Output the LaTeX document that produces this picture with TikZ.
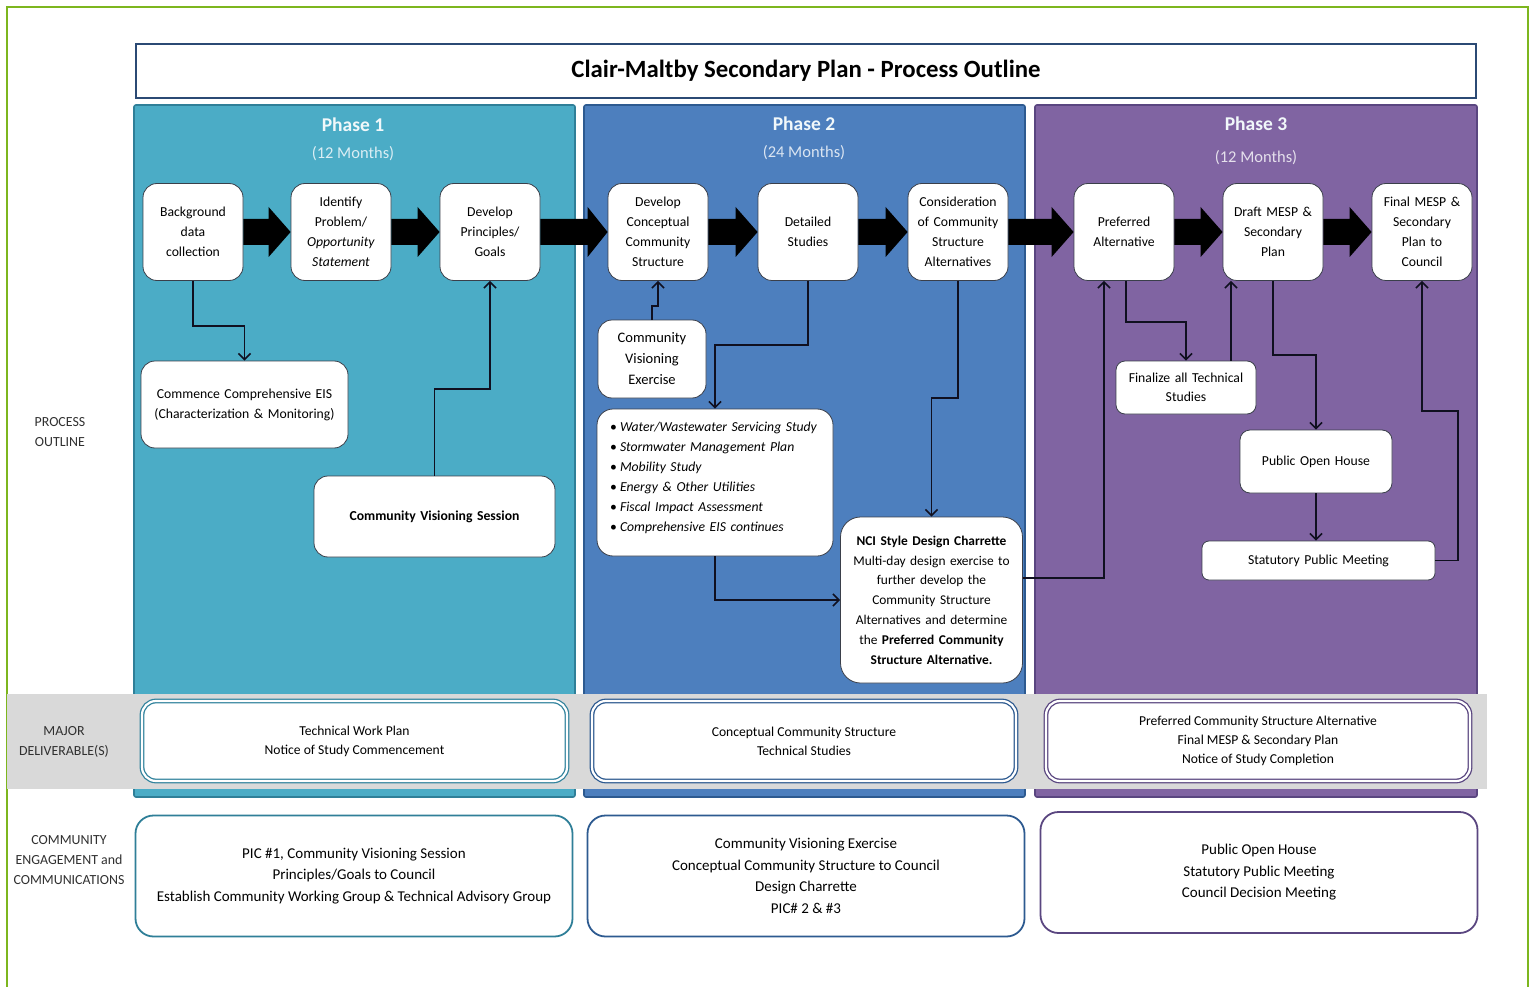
\documentclass[tikz,border=0pt]{standalone}
\usepackage{fontspec}
\setmainfont{Carlito}
\usetikzlibrary{arrows.meta,calc}
\definecolor{gborder}{HTML}{7DB61E}
\definecolor{titleb}{HTML}{2B4A74}
\definecolor{pone}{HTML}{4BACC6}
\definecolor{ponel}{HTML}{2F7F98}
\definecolor{ptwo}{HTML}{4D7FBE}
\definecolor{ptwol}{HTML}{2D5A90}
\definecolor{pthree}{HTML}{8064A2}
\definecolor{pthreel}{HTML}{5A4680}
\definecolor{band}{HTML}{D9D9D9}
\definecolor{nodeb}{HTML}{3A3F4A}
\definecolor{conncol}{HTML}{101020}
\definecolor{labtxt}{HTML}{303030}
\newcommand\fa{\fontsize{13.7}{20}\selectfont}
\newcommand\fb{\fontsize{15}{21.5}\selectfont}
\newcommand\bigarr[3]{%
  \fill[black] ($(#1.east)+(0,-13)$) -- ($(#2.west)+(-#3,-13)$) -- ($(#2.west)+(-#3,-25)$) -- (#2.west) -- ($(#2.west)+(-#3,25)$) -- ($(#2.west)+(-#3,13)$) -- ($(#1.east)+(0,13)$) -- cycle;}
\begin{document}
\begin{tikzpicture}[x=1pt,y=-1pt,
  box/.style={draw=nodeb, line width=0.8pt, fill=white, rounded corners=14pt, align=center, inner sep=2pt, font=\fa, text=black},
  topbox/.style={box, minimum width=98pt, minimum height=97pt, text width=96pt},
  conn/.style={draw=conncol, line width=1.8pt, -{Straight Barb[length=6pt,width=12pt,line width=1.6pt]}},
  panel/.style={line width=1.6pt, rounded corners=2pt},
  phase/.style={font=\fontsize{19.5}{22}\selectfont\bfseries, text=white!92!pone},
  months/.style={font=\fontsize{16.5}{18}\selectfont},
  deliv/.style={fill=white, line width=1.3pt, double=white, double distance=2.2pt, rounded corners=14pt, align=center, font=\fontsize{13.6}{19}\selectfont, minimum height=80pt},
  engage/.style={fill=white, line width=1.8pt, rounded corners=18pt, align=center, font=\fb, minimum height=121pt},
  sidelab/.style={align=center, font=\fontsize{13.9}{20}\selectfont, text=labtxt}
]
\useasboundingbox (0,0) rectangle (1532,987);
\fill[white] (0,0) rectangle (1532,987);
\draw[gborder, line width=2pt] (7,1000) -- (7,7) -- (1528,7) -- (1528,1000);

% title
\node[draw=titleb, line width=2pt, fill=white, minimum width=1340pt, minimum height=54pt, font=\fontsize{24.8}{26}\selectfont\bfseries] (title) at (806,71) {Clair-Maltby Secondary Plan - Process Outline};

% phase panels
\filldraw[panel, fill=pone, draw=ponel] (134,105) rectangle (575,797);
\filldraw[panel, fill=ptwo, draw=ptwol] (584,105) rectangle (1025,797);
\filldraw[panel, fill=pthree, draw=pthreel] (1035,105) rectangle (1477,797);

\node[phase] (ph1) at (353,125) {Phase 1};
\node[months, text=white!80!pone] (m1) at (353,154) {(12 Months)};
\node[phase] (ph2) at (804,124) {Phase 2};
\node[months, text=white!80!ptwo] (m2) at (804,153) {(24 Months)};
\node[phase] (ph3) at (1256,124) {Phase 3};
\node[months, text=white!80!pthree] (m3) at (1256,158) {(12 Months)};

% top nodes
\node[topbox] (b1) at (193,232) {Background\\data\\collection};
\node[topbox] (b2) at (341,232) {Identify\\Problem/\\\textit{Opportunity}\\\textit{Statement}};
\node[topbox] (b3) at (490,232) {Develop\\Principles/\\Goals};
\node[topbox] (c1) at (658,232) {Develop\\Conceptual\\Community\\Structure};
\node[topbox] (c2) at (808,232) {Detailed\\Studies};
\node[topbox] (c3) at (958,232) {Consideration\\of Community\\Structure\\Alternatives};
\node[topbox] (d1) at (1124,232) {Preferred\\Alternative};
\node[topbox] (d2) at (1273,232) {Draft MESP \&\\Secondary\\Plan};
\node[topbox] (d3) at (1422,232) {Final MESP \&\\Secondary\\Plan to\\Council};

\bigarr{b1}{b2}{22}
\bigarr{b2}{b3}{22}
\bigarr{b3}{c1}{20}
\bigarr{c1}{c2}{22}
\bigarr{c2}{c3}{22}
\bigarr{c3}{d1}{22}
\bigarr{d1}{d2}{22}
\bigarr{d2}{d3}{22}

% phase 1 lower nodes
\node[box, minimum width=207pt, minimum height=87pt, text width=203pt] (eis) at (244.5,404.5) {Commence Comprehensive EIS\\(Characterization \& Monitoring)};
\node[box, minimum width=241pt, minimum height=81pt, text width=230pt, font=\fa\bfseries] (cvs) at (434.5,516.5) {Community Visioning Session};

% phase 2 lower nodes
\node[box, minimum width=108pt, minimum height=78pt, text width=104pt, font=\fontsize{14.5}{21}\selectfont] (cve) at (652,359) {Community\\Visioning\\Exercise};
\node[box, minimum width=236pt, minimum height=147pt, text width=210pt, align=left, rounded corners=16pt] (bl) at (715,482.5) {%
\makebox[10pt][l]{\textbullet}\textit{Water/Wastewater Servicing Study}\\
\makebox[10pt][l]{\textbullet}\textit{Stormwater Management Plan}\\
\makebox[10pt][l]{\textbullet}\textit{Mobility Study}\\
\makebox[10pt][l]{\textbullet}\textit{Energy \& Other Utilities}\\
\makebox[10pt][l]{\textbullet}\textit{Fiscal Impact Assessment}\\
\makebox[10pt][l]{\textbullet}\textit{Comprehensive EIS continues}\rule[-12pt]{0pt}{12pt}};
\node[box, minimum width=181pt, minimum height=166pt, text width=178pt, rounded corners=20pt, font=\fontsize{13.4}{19.8}\selectfont] (nci) at (931.5,600) {\textbf{NCI Style Design Charrette}\\Multi-day design exercise to\\further develop the\\Community Structure\\Alternatives and determine\\the \textbf{Preferred Community}\\\textbf{Structure Alternative.}};

% phase 3 lower nodes
\node[box, minimum width=138pt, minimum height=53pt, text width=136pt, rounded corners=9pt, font=\fontsize{13.7}{19}\selectfont] (fin) at (1186,387.5) {Finalize all Technical\\Studies};
\node[box, minimum width=152pt, minimum height=63pt, text width=148pt, rounded corners=10pt] (poh) at (1316,461.5) {Public Open House};
\node[box, minimum width=233pt, minimum height=39pt, text width=228pt, rounded corners=7pt] (spm) at (1318.5,560.5) {Statutory Public Meeting};

% connectors
\draw[conn] (b1.south) -- (b1.south |- 0,326) -| (eis.north);
\draw[conn] (cvs.north) -- (cvs.north |- 0,389) -| (b3.south);
\draw[conn] (cve.north) -- (cve.north |- 0,306) -| (c1.south);
\draw[conn] (c2.south) -- (c2.south |- 0,345) -| (bl.north);
\draw[conn] (c3.south) -- (c3.south |- 0,398) -| (nci.north);
\draw[conn] (bl.south) -- (bl.south |- nci.west) -- (nci.west);
\draw[conn] (nci.east |- 0,578) -| ($(d1.south)+(-20,0)$);
\draw[conn] ($(d1.south)+(2,0)$) -- ($(d1.south)+(2,41)$) -| (fin.north);
\draw[conn] (fin.north -| 1231,0) -- (d2.south -| 1231,0);
\draw[conn] (d2.south) -- (d2.south |- 0,355) -| (poh.north);
\draw[conn] (poh.south) -- (poh.south |- spm.north);
\draw[conn] (spm.east) -| (1458,411) -| (d3.south);

% deliverables band
\fill[band] (7,694) rectangle (1487,789);
\node[deliv, draw=ponel!90!pone, minimum width=425pt] (del1) at (354.5,741) {Technical Work Plan\\Notice of Study Commencement};
\node[deliv, draw=ptwol, minimum width=424pt] (del2) at (804,741) {Conceptual Community Structure\\Technical Studies};
\node[deliv, draw=pthreel, minimum width=424pt] (del3) at (1258,741) {Preferred Community Structure Alternative\\Final MESP \& Secondary Plan\\Notice of Study Completion};

% engagement
\node[engage, draw=ponel, minimum width=437pt] (eng1) at (354,876) {PIC \#1, Community Visioning Session\\Principles/Goals to Council\\Establish Community Working Group \& Technical Advisory Group};
\node[engage, draw=ptwol, minimum width=437pt] (eng2) at (806,876) {Community Visioning Exercise\\Conceptual Community Structure to Council\\Design Charrette\\PIC\# 2 \& \#3};
\node[engage, draw=pthreel, minimum width=437pt] (eng3) at (1259,872.5) {Public Open House\\Statutory Public Meeting\\Council Decision Meeting};

% side labels
\node[sidelab] (l1) at (60,432) {PROCESS\\OUTLINE};
\node[sidelab, font=\fontsize{13.9}{19.5}\selectfont] (l2) at (64,742) {MAJOR\\DELIVERABLE(S)};
\node[sidelab] (l3) at (69,860) {COMMUNITY\\ENGAGEMENT and\\COMMUNICATIONS};
\end{tikzpicture}
\end{document}
